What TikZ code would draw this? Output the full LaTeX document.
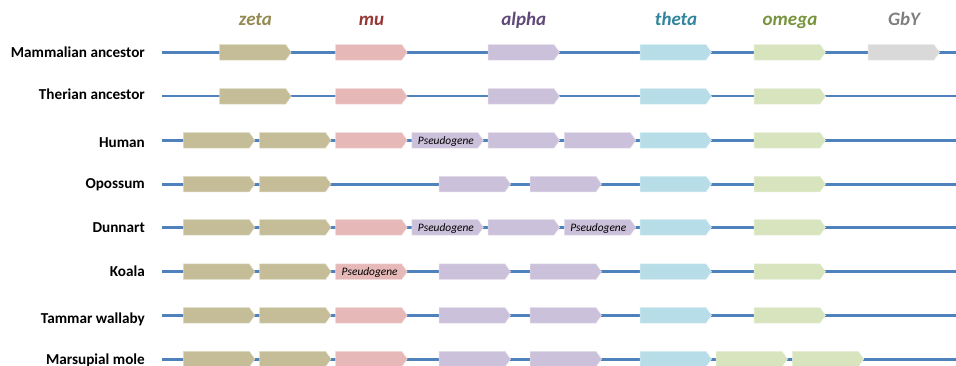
\documentclass[tikz,border=0pt]{standalone}
\usepackage{fontspec}
\setmainfont{Carlito}

% gene family colours
\definecolor{lineblue}{HTML}{4F81BD}
\definecolor{zetafill}{HTML}{C4BD97}
\definecolor{mufill}{HTML}{E6B9B8}
\definecolor{alphafill}{HTML}{CCC1DA}
\definecolor{thetafill}{HTML}{B7DEE8}
\definecolor{omegafill}{HTML}{D7E4BD}
\definecolor{gbyfill}{HTML}{D9D9D9}
\definecolor{zetatext}{HTML}{948A54}
\definecolor{mutext}{HTML}{953735}
\definecolor{alphatext}{HTML}{5F497A}
\definecolor{thetatext}{HTML}{31859C}
\definecolor{omegatext}{HTML}{77933C}
\definecolor{gbytext}{HTML}{7F7F7F}

\tikzset{
  chrom/.style={draw=lineblue, line width=3pt},
  thinchrom/.style={draw=lineblue, line width=2pt},
  rowlabel/.style={font=\bfseries\fontsize{15.2}{18}\selectfont, anchor=base east, inner sep=0pt},
  header/.style={font=\bfseries\itshape\fontsize{19}{22}\selectfont, anchor=base, inner sep=0pt},
  pseudo/.style={font=\itshape\fontsize{11.4}{13}\selectfont, anchor=base, inner sep=0pt},
}

% \genebox{name}{left x}{row y}{fill colour}{label}
\newcommand\genebox[5]{%
  \filldraw[fill=#4, draw=#4!55!white, line width=0.5pt]
    (#2,#3-7.75) -- ++(66,0) -- ++(5.5,7.75) -- ++(-5.5,7.75) -- ++(-66,0) -- cycle;
  \node[pseudo] (#1) at (#2+34,#3+3.8) {#5};%
}

% \chromrow{name}{line y}{style}{label}{label baseline y}
\newcommand\chromrow[5]{%
  \node[rowlabel] (#1lab) at (145,#5) {#4};
  \coordinate (#1s) at (162,#2);
  \coordinate (#1e) at (957,#2);
  \draw[#3] (#1s) -- (#1e);%
}

\begin{document}
\begin{tikzpicture}[x=1pt, y=-1pt]
\useasboundingbox (0,0) rectangle (956,365);

% column headings
\node[header, text=zetatext]  (hzeta)  at (255.4,25) {zeta};
\node[header, text=mutext]    (hmu)    at (371.4,25) {mu};
\node[header, text=alphatext] (halpha) at (523.7,25) {alpha};
\node[header, text=thetatext] (htheta) at (676,25)   {theta};
\node[header, text=omegatext] (homega) at (790,25)   {omega};
\node[header, text=gbytext]   (hgby)   at (904,25)   {GbY};

% chromosome lines
\chromrow{mam}{52.3}{chrom}{Mammalian ancestor}{57.3}
\chromrow{the}{96.3}{thinchrom}{Therian ancestor}{99.3}
\chromrow{hum}{140.3}{chrom}{Human}{147.3}
\chromrow{opo}{184}{chrom}{Opossum}{188.3}
\chromrow{dun}{227.3}{chrom}{Dunnart}{232}
\chromrow{koa}{271.7}{chrom}{Koala}{276}
\chromrow{tam}{315.3}{chrom}{Tammar wallaby}{323.3}
\chromrow{mol}{359}{chrom}{Marsupial mole}{364.8}

% Mammalian ancestor
\genebox{mam1}{219.7}{52.3}{zetafill}{}
\genebox{mam2}{335.7}{52.3}{mufill}{}
\genebox{mam3}{488}{52.3}{alphafill}{}
\genebox{mam4}{640}{52.3}{thetafill}{}
\genebox{mam5}{754}{52.3}{omegafill}{}
\genebox{mam6}{868}{52.3}{gbyfill}{}

% Therian ancestor
\genebox{the1}{219.7}{96.3}{zetafill}{}
\genebox{the2}{335.7}{96.3}{mufill}{}
\genebox{the3}{488}{96.3}{alphafill}{}
\genebox{the4}{640}{96.3}{thetafill}{}
\genebox{the5}{754}{96.3}{omegafill}{}

% Human
\genebox{hum1}{183.3}{140.3}{zetafill}{}
\genebox{hum2}{259.5}{140.3}{zetafill}{}
\genebox{hum3}{335.7}{140.3}{mufill}{}
\genebox{hum4}{411.9}{140.3}{alphafill}{Pseudogene}
\genebox{hum5}{488.1}{140.3}{alphafill}{}
\genebox{hum6}{564.3}{140.3}{alphafill}{}
\genebox{hum7}{640}{140.3}{thetafill}{}
\genebox{hum8}{754}{140.3}{omegafill}{}

% Opossum
\genebox{opo1}{183.3}{184}{zetafill}{}
\genebox{opo2}{259.5}{184}{zetafill}{}
\genebox{opo3}{439}{184}{alphafill}{}
\genebox{opo4}{530}{184}{alphafill}{}
\genebox{opo5}{640}{184}{thetafill}{}
\genebox{opo6}{754}{184}{omegafill}{}

% Dunnart
\genebox{dun1}{183.3}{227.3}{zetafill}{}
\genebox{dun2}{259.5}{227.3}{zetafill}{}
\genebox{dun3}{335.7}{227.3}{mufill}{}
\genebox{dun4}{411.9}{227.3}{alphafill}{Pseudogene}
\genebox{dun5}{488.1}{227.3}{alphafill}{}
\genebox{dun6}{564.3}{227.3}{alphafill}{Pseudogene}
\genebox{dun7}{640}{227.3}{thetafill}{}
\genebox{dun8}{754}{227.3}{omegafill}{}

% Koala
\genebox{koa1}{183.3}{271.7}{zetafill}{}
\genebox{koa2}{259.5}{271.7}{zetafill}{}
\genebox{koa3}{335.7}{271.7}{mufill}{Pseudogene}
\genebox{koa4}{439}{271.7}{alphafill}{}
\genebox{koa5}{530}{271.7}{alphafill}{}
\genebox{koa6}{640}{271.7}{thetafill}{}
\genebox{koa7}{754}{271.7}{omegafill}{}

% Tammar wallaby
\genebox{tam1}{183.3}{315.3}{zetafill}{}
\genebox{tam2}{259.5}{315.3}{zetafill}{}
\genebox{tam3}{335.7}{315.3}{mufill}{}
\genebox{tam4}{439}{315.3}{alphafill}{}
\genebox{tam5}{530}{315.3}{alphafill}{}
\genebox{tam6}{640}{315.3}{thetafill}{}
\genebox{tam7}{754}{315.3}{omegafill}{}

% Marsupial mole
\genebox{mol1}{183.3}{359}{zetafill}{}
\genebox{mol2}{259.5}{359}{zetafill}{}
\genebox{mol3}{335.7}{359}{mufill}{}
\genebox{mol4}{439}{359}{alphafill}{}
\genebox{mol5}{530}{359}{alphafill}{}
\genebox{mol6}{640}{359}{thetafill}{}
\genebox{mol7}{716}{359}{omegafill}{}
\genebox{mol8}{792.3}{359}{omegafill}{}
\end{tikzpicture}
\end{document}
